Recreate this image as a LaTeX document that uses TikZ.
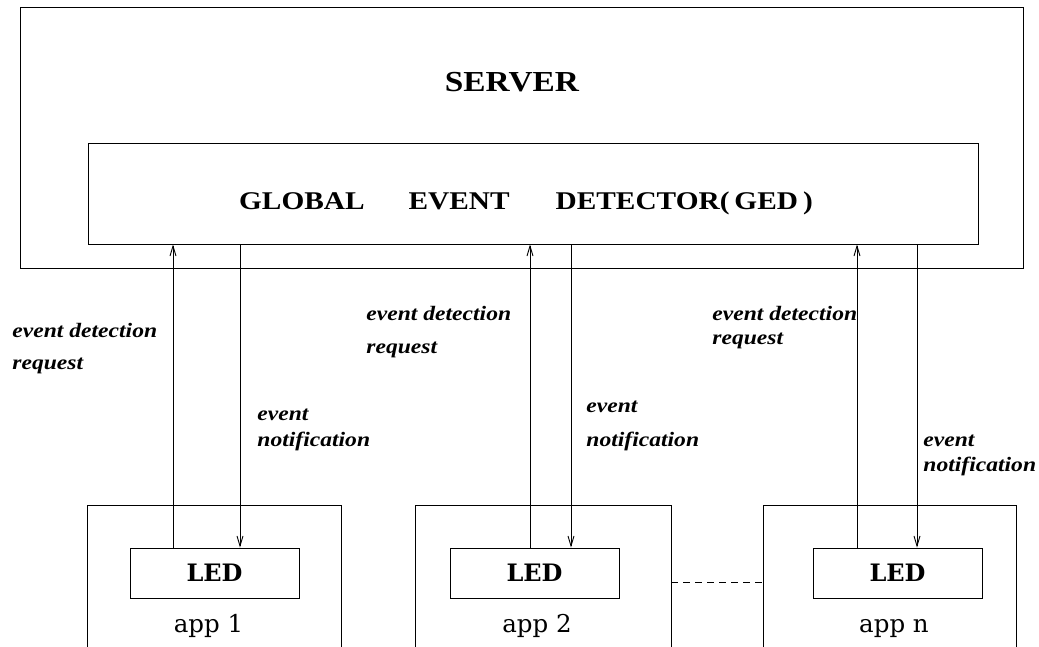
\documentclass[tikz,border=0pt]{standalone}
\usepackage{fontspec}
\setmainfont{Liberation Serif}[FakeStretch=1.15]
\newfontfamily\appfont{DejaVu Serif}
\usetikzlibrary{arrows.meta}

\begin{document}
\begin{tikzpicture}[x=1pt,y=-1pt,
  line width=0.9pt,
  box/.style={draw,rectangle,inner sep=0pt},
  openbox/.style={rectangle,inner sep=0pt},
  flow/.style={-{Straight Barb[length=10pt,width=6pt]}},
  lbl/.style={anchor=base west,inner sep=0pt,font=\fontsize{20.5}{20.5}\selectfont\bfseries\itshape},
  ledtext/.style={font=\appfont\fontsize{24}{24}\selectfont\bfseries},
  apptext/.style={anchor=base,inner sep=0pt,font=\appfont\fontsize{24.5}{24.5}\selectfont},
]
\useasboundingbox (0,0) rectangle (1039,647);

% server and global event detector
\node[box,minimum width=1003pt,minimum height=261pt] (server) at (521.5,137.5) {};
\node[anchor=base,inner sep=0pt,font=\fontsize{29}{29}\selectfont\bfseries] (servertitle) at (512,92) {SERVER};
\node[box,minimum width=890pt,minimum height=101pt] (ged) at (533,193.5) {};
\node[anchor=base,inner sep=0pt,font=\fontsize{25.5}{25.5}\selectfont\bfseries] (gedtitle) at (526,210)
  {GLOBAL\hspace{44pt}EVENT\hspace{46pt}DETECTOR(\hspace{5pt}GED\hspace{5pt})};

% application boxes (open at the bottom)
\node[openbox,minimum width=253pt,minimum height=141pt] (app1) at (214.5,576.5) {};
\node[openbox,minimum width=255pt,minimum height=141pt] (app2) at (543.5,576.5) {};
\node[openbox,minimum width=252pt,minimum height=141pt] (app3) at (890,576.5) {};
\foreach \a in {app1,app2,app3}
  \draw (\a.south west) |- (\a.north east) -- (\a.south east);

% local event detectors
\node[box,ledtext,minimum width=169pt,minimum height=50pt] (led1) at (214.5,573) {LED};
\node[box,ledtext,minimum width=169pt,minimum height=50pt] (led2) at (534.5,573) {LED};
\node[box,ledtext,minimum width=169pt,minimum height=50pt] (led3) at (897.5,573) {LED};

\node[apptext] (app1name) at (208.5,632) {app 1};
\node[apptext] (app2name) at (537,632) {app 2};
\node[apptext] (app3name) at (894,632) {app n};

\draw[dash pattern=on 7pt off 5pt] (app2.east |- 0,582) -- (app3.west |- 0,582);

% request / notification channels
\coordinate (u1) at (173,0);
\coordinate (d1) at (240,0);
\coordinate (u2) at (530,0);
\coordinate (d2) at (571,0);
\coordinate (u3) at (857,0);
\coordinate (d3) at (917,0);
\draw[flow] (led1.north -| u1) -- (ged.south -| u1);
\draw[flow] (ged.south -| d1) -- (led1.north -| d1);
\draw[flow] (led2.north -| u2) -- (ged.south -| u2);
\draw[flow] (ged.south -| d2) -- (led2.north -| d2);
\draw[flow] (led3.north -| u3) -- (ged.south -| u3);
\draw[flow] (ged.south -| d3) -- (led3.north -| d3);

% channel labels
\node[lbl] (req1a) at (12,337) {event detection};
\node[lbl] (req1b) at (12,369) {request};
\node[lbl] (not1a) at (257,420) {event};
\node[lbl] (not1b) at (257,446) {notification};
\node[lbl] (req2a) at (366,320) {event detection};
\node[lbl] (req2b) at (366,353) {request};
\node[lbl] (not2a) at (586,412) {event};
\node[lbl] (not2b) at (586,446) {notification};
\node[lbl] (req3a) at (712,320) {event detection};
\node[lbl] (req3b) at (712,344) {request};
\node[lbl] (not3a) at (923,446) {event};
\node[lbl] (not3b) at (923,471) {notification};
\end{tikzpicture}
\end{document}
